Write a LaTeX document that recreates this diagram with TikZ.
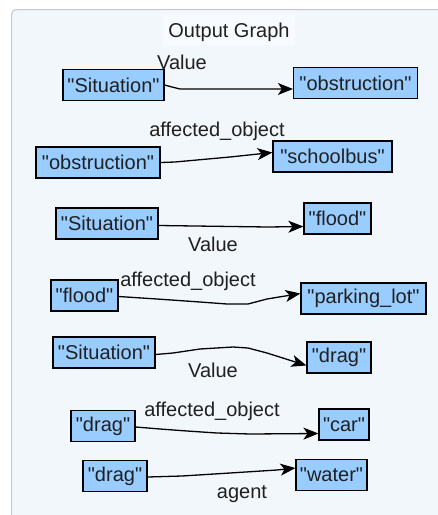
\documentclass[tikz,border=0pt]{standalone}
\usepackage{fontspec}
\setmainfont{Liberation Sans}[Ligatures=TeXOff]
\usetikzlibrary{arrows.meta}

\definecolor{panelbg}{HTML}{F2F7FC}
\definecolor{titlebg}{HTML}{F7FAFE}
\definecolor{panelline}{HTML}{C4C8CC}
\definecolor{nodefill}{HTML}{99CCFF}
\definecolor{inktext}{HTML}{202020}

\tikzset{
  term/.style={draw=black, line width=1.2pt, fill=nodefill, rectangle,
    minimum height=31pt, inner xsep=2pt, inner ysep=0pt, text=inktext,
    font=\fontsize{20}{22}\selectfont},
  rel/.style={draw=black, line width=1.3pt,
    -{Stealth[length=15pt,width=12pt,inset=4pt]}},
  rellabel/.style={text=inktext, inner sep=0pt,
    font=\fontsize{20}{22}\selectfont},
}

\begin{document}
\begin{tikzpicture}[x=1pt,y=-1pt]
  \useasboundingbox (0,0) rectangle (438,515);
  \fill[white] (0,0) rectangle (438,515);

  % panel
  \fill[panelbg, rounded corners=5pt] (11.5,9.5) rectangle (460,540);
  \draw[panelline, line width=1pt, rounded corners=5pt]
    (11.5,540) -- (11.5,9.5) -- (460,9.5);
  \fill[titlebg] (163,15) rectangle (295,45);
  \node[rellabel] (title) at (229,32) {Output Graph};

  % triple 1
  \node[term, minimum width=101pt] (s1) at (113.5,85) {"Situation"};
  \node[term, minimum width=124pt] (o1) at (355.5,83) {"obstruction"};
  \draw[rel] (s1.east) -- (172,87) -- (180,89) -- ([yshift=-6pt]o1.west);
  \node[rellabel] (l1) at (182,62) {Value};

  % triple 2
  \node[term, minimum width=124pt] (o2) at (98,162.5) {"obstruction"};
  \node[term, minimum width=119pt] (sb) at (332.5,156.5) {"schoolbus"};
  \draw[rel] (o2.east) -- (175,162) -- (230,157) -- ([yshift=4pt]sb.west);
  \node[rellabel] (l2) at (217,131) {affected\_object};

  % triple 3
  \node[term, minimum width=102pt] (s2) at (107,223.5) {"Situation"};
  \node[term, minimum width=67pt] (f1) at (337.5,218.5) {"flood"};
  \draw[rel] ([yshift=-2pt]s2.east) -- (268,227) -- ([yshift=-8pt]f1.west);
  \node[rellabel] (l3) at (213,244) {Value};

  % triple 4
  \node[term, minimum width=67pt] (f2) at (84.5,295.5) {"flood"};
  \node[term, minimum width=125pt] (pl) at (363.5,298.5) {"parking\_lot"};
  \draw[rel] ([yshift=-1pt]f2.east) -- (157,299) -- (200,302) -- (227,304)
    -- (248,304) -- (267,299) -- ([yshift=5pt]pl.west);
  \node[rellabel] (l4) at (188,281) {affected\_object};

  % triple 5
  \node[term, minimum width=102pt] (s3) at (104,352.5) {"Situation"};
  \node[term, minimum width=64pt] (d1) at (339,357.5) {"drag"};
  \draw[rel] ([yshift=-2pt]s3.east) -- (173,353) -- (200,349) -- (233,347)
    -- (248,348) -- (267,353) -- ([yshift=-8pt]d1.west);
  \node[rellabel] (l5) at (213,370) {Value};

  % triple 6
  \node[term, minimum width=64pt] (d2) at (103,426) {"drag"};
  \node[term, minimum width=50pt] (car) at (344,424.5) {"car"};
  \draw[rel] ([yshift=-1pt]d2.east) -- (160,429) -- (187,431) -- (217,433)
    -- (250,434) -- ([yshift=-9pt]car.west);
  \node[rellabel] (l6) at (212,411) {affected\_object};

  % triple 7
  \node[term, minimum width=64pt] (d3) at (115,476) {"drag"};
  \node[term, minimum width=71pt] (water) at (331.5,475) {"water"};
  \draw[rel] ([yshift=-1pt]d3.east) -- (182,476) -- (230,473) -- (277,470)
    -- ([yshift=7pt]water.west);
  \node[rellabel] (l7) at (242,494) {agent};
\end{tikzpicture}
\end{document}
